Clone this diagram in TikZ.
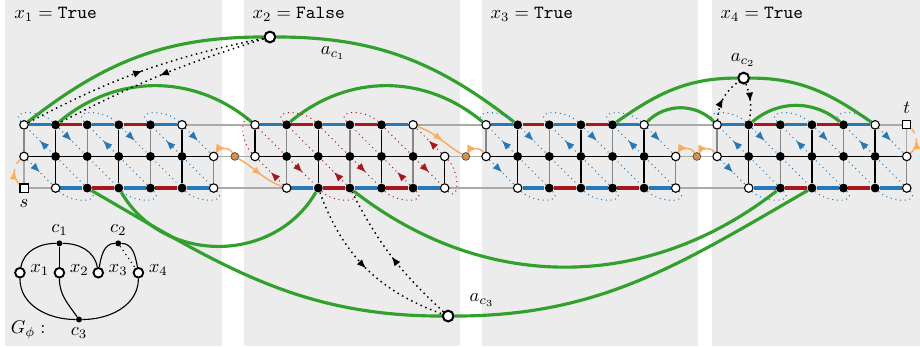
\documentclass[tikz,border=0pt]{standalone}
\usepackage{tikz}
\usetikzlibrary{arrows.meta}
\usetikzlibrary{decorations.markings}
\usetikzlibrary{positioning}
\usepackage{amsmath}

\definecolor{cblue}{RGB}{38,120,182}
\definecolor{cred}{RGB}{165,25,30}
\definecolor{cgreen}{RGB}{50,160,45}
\definecolor{corange}{RGB}{250,172,95}
\definecolor{panelgray}{RGB}{236,236,236}
\definecolor{lgray}{RGB}{170,170,170}
\definecolor{vgray}{RGB}{135,135,135}

\pgfdeclarelayer{panel}
\pgfdeclarelayer{edge}
\pgfsetlayers{panel,edge,main}

\tikzstyle{bnode}=[circle,fill=black,inner sep=0pt,minimum size=4.8pt]
\tikzstyle{wnode}=[circle,draw=black,fill=white,line width=0.6pt,inner sep=0pt,minimum size=4.6pt]
\tikzstyle{snode}=[rectangle,draw=black,fill=white,line width=0.6pt,inner sep=0pt,minimum size=4.4pt]
\tikzstyle{anode}=[circle,draw=black,fill=white,line width=1.1pt,inner sep=0pt,minimum size=5.8pt]
\tikzstyle{odot}=[circle,draw=black!70,fill=corange!85!black,line width=0.4pt,inner sep=0pt,minimum size=4.2pt]
\tikzstyle{xnode}=[circle,draw=black,fill=white,line width=1pt,inner sep=0pt,minimum size=5.2pt]
\tikzstyle{cnode}=[circle,fill=black,inner sep=0pt,minimum size=3.2pt]
\tikzstyle{vlabel}=[anchor=west,inner sep=0pt]
\tikzstyle{grid}=[line width=0.7pt]
\tikzstyle{link}=[lgray,line width=0.8pt]
\tikzstyle{tedge}=[cblue,line width=1.7pt]
\tikzstyle{fedge}=[cred,line width=1.7pt]
\tikzstyle{gedge}=[cgreen,line width=1.7pt]
\tikzstyle{phi}=[line width=0.6pt]
\tikzstyle{cyc}=[dotted,line width=0.55pt]
\tikzstyle{capb}=[out=-45,in=-45,looseness=1.35]
\tikzstyle{capt}=[out=135,in=135,looseness=1.35]
\tikzstyle{bmark}=[decoration={markings,mark=at position 0.5 with {\arrow{Latex[length=5pt,width=4pt,color=cblue]}}},decorate]
\tikzstyle{rmark}=[decoration={markings,mark=at position 0.5 with {\arrow{Latex[length=5pt,width=4pt,color=cred]}}},decorate]
\tikzstyle{detour}=[dotted,line width=0.8pt,decoration={markings,mark=at position 0.5 with {\arrow{Latex[length=5pt,width=4pt]}}},postaction={decorate}]
\tikzstyle{oarr}=[corange,line width=0.8pt,decoration={markings,mark=at position 0.55 with {\arrow{Latex[length=5pt,width=4pt]}}},postaction={decorate}]

\begin{document}
\begin{tikzpicture}[x=0.6cm,y=0.6cm]
  \useasboundingbox (-0.76,-5.0) rectangle (28.35,5.95);
  \begin{pgfonlayer}{panel}
    \fill[panelgray] (-0.60,-5.0) rectangle (6.27,5.95);
    \fill[panelgray] (6.96,-5.0) rectangle (13.80,5.95);
    \fill[panelgray] (14.49,-5.0) rectangle (21.33,5.95);
    \fill[panelgray] (21.77,-5.0) rectangle (28.35,5.95);
  \end{pgfonlayer}

  \node[vlabel] (v1) at (-0.32,5.5) {$x_1 = \texttt{True}$};
  \node[vlabel] (v2) at (7.22,5.5) {$x_2 = \texttt{False}$};
  \node[vlabel] (v3) at (14.75,5.5) {$x_3 = \texttt{True}$};
  \node[vlabel] (v4) at (22.03,5.5) {$x_4 = \texttt{True}$};

  % variable gadgets
  \foreach \g/\ox in {1/0,2/7.31,3/14.62,4/21.93} {
    \node[wnode] (g\g t0) at (\ox,2) {};
    \foreach \i in {1,...,4} \node[bnode] (g\g t\i) at (\ox+\i,2) {};
    \node[wnode] (g\g t5) at (\ox+5,2) {};
    \node[wnode] (g\g m0) at (\ox,1) {};
    \foreach \i in {1,...,5} \node[bnode] (g\g m\i) at (\ox+\i,1) {};
    \node[wnode] (g\g m6) at (\ox+6,1) {};
    \node[wnode] (g\g b1) at (\ox+1,0) {};
    \foreach \i in {2,...,5} \node[bnode] (g\g b\i) at (\ox+\i,0) {};
    \node[wnode] (g\g b6) at (\ox+6,0) {};
  }
  \node[snode] (s) at (0,0) {};
  \node[snode] (t) at (27.93,2) {};
  \node[below=0pt of s] (ls) {$s$};
  \node[above=0pt of t] (lt) {$t$};
  \node[odot] (o1) at (6.67,1) {};
  \node[odot] (o2) at (13.98,1) {};
  \node[odot] (o3) at (21.29,1) {};

  % clause vertices
  \node[anode] (ac1) at (7.78,4.78) {};
  \node[anode] (ac2) at (22.77,3.48) {};
  \node[anode] (ac3) at (13.42,-4.05) {};
  \node (lac1) at (9.78,4.27) {$a_{c_1}$};
  \node (lac2) at (22.75,4.05) {$a_{c_2}$};
  \node (lac3) at (14.49,-3.54) {$a_{c_3}$};

  % G_phi
  \node[xnode] (gx1) at (-0.13,-2.68) {};
  \node[xnode] (gx2) at (1.12,-2.68) {};
  \node[xnode] (gx3) at (2.35,-2.68) {};
  \node[xnode] (gx4) at (3.62,-2.68) {};
  \node[cnode] (gc1) at (1.12,-1.75) {};
  \node[cnode] (gc2) at (2.98,-1.75) {};
  \node[cnode] (gc3) at (1.74,-4.16) {};
  \foreach \i in {1,...,4} \node[right=-1pt of gx\i,yshift=1.5pt] (lx\i) {$x_\i$};
  \node[above=-1pt of gc1] (lc1) {$c_1$};
  \node[above=-1pt of gc2] (lc2) {$c_2$};
  \node[below=-1pt of gc3] (lc3) {$c_3$};
  \node (gphi) at (0.13,-4.49) {$G_\phi :$};

  \begin{pgfonlayer}{edge}
    % links between gadgets
    \draw[link] (g1b1) -- (s) -- (g1m0);
    \draw[link] (g4t5) -- (t) -- (g4m6);
    \foreach \g/\h in {1/2,2/3,3/4} {
      \draw[link] (g\g t5) -- (g\h t0);
      \draw[link] (g\g b6) -- (g\h b1);
      \draw[link] (g\g m6) -- (o\g) -- (g\h m0);
    }
    % grid and coloured edges
    \foreach \g/\ce/\co in {1/vgray/black,2/black/vgray,3/vgray/black,4/vgray/black} {
      \draw[grid] (g\g m0) \foreach \i in {1,...,6} {-- (g\g m\i)};
      \draw[grid,\ce] (g\g t0) -- (g\g m0);
      \draw[grid,\ce] (g\g m6) -- (g\g b6);
      \foreach \i in {2,4} \draw[grid,\ce] (g\g t\i) -- (g\g m\i) -- (g\g b\i);
      \foreach \i in {1,3,5} \draw[grid,\co] (g\g t\i) -- (g\g m\i) -- (g\g b\i);
      \draw[tedge] (g\g t0) -- (g\g t1) (g\g t2) -- (g\g t3) (g\g t4) -- (g\g t5);
      \draw[fedge] (g\g t1) -- (g\g t2) (g\g t3) -- (g\g t4);
      \draw[tedge] (g\g b1) -- (g\g b2) (g\g b3) -- (g\g b4) (g\g b5) -- (g\g b6);
      \draw[fedge] (g\g b2) -- (g\g b3) (g\g b4) -- (g\g b5);
    }
    % clause edges
    \draw[gedge] (g1t0) to[out=38,in=180] (ac1) to[out=0,in=142] (g3t1);
    \draw[gedge] (g1t1) to[bend left=40] (g2t0);
    \draw[gedge] (g2t1) to[bend left=40] (g3t0);
    \draw[gedge] (g3t4) to[out=35,in=180] (ac2) to[out=0,in=145] (g4t5);
    \draw[gedge] (g3t5) to[bend left=45] (g4t0);
    \draw[gedge] (g4t1) to[bend left=40] (g4t4);
    \draw[gedge] (g1b2) to[out=-30,in=180] (ac3) to[out=0,in=-150] (g4b3);
    \draw[gedge] (g1b3) to[out=-60,in=-120,looseness=1.1] (g2b2);
    \draw[gedge] (g2b3) to[bend right=38] (g4b2);
    % alternating cycles
    \foreach \g in {1,3,4} {
      \draw[cyc,cblue] (g\g m0) -- (g\g b1) to[capb] (g\g b2) -- (g\g t0)
        to[capt] (g\g t1) -- (g\g b3) to[capb] (g\g b4) -- (g\g t2)
        to[capt] (g\g t3) -- (g\g b5) to[capb] (g\g b6) -- (g\g t4)
        to[capt] (g\g t5) -- (g\g m6);
      \foreach \a/\b in {m0/b1,m1/t0,t1/m2,m3/t2,t3/m4,m5/t4,t5/m6} \path[bmark] (g\g\a) -- (g\g\b);
    }
    \draw[cyc,cred] (g2b1) -- (g2m0) to[capt] (g2t0) -- (g2b2)
      to[capb] (g2b3) -- (g2t1) to[capt] (g2t2) -- (g2b4)
      to[capb] (g2b5) -- (g2t3) to[capt] (g2t4) -- (g2b6)
      to[capb] (g2m6) -- (g2t5);
    \foreach \a/\b in {b1/m0,m1/b2,b3/m2,m3/b4,b5/m4,m5/b6,m6/t5} \path[rmark] (g2\a) -- (g2\b);
    % the path s -> t
    \draw[oarr,dashed] (s) to[bend left=50] (g1m0);
    \draw[oarr] (g1m6) to[bend left=60] (o1);
    \draw[oarr] (o1) to[out=-30,in=160] (g2b1);
    \draw[oarr] (g2t5) to[out=-20,in=150] (o2);
    \draw[oarr] (o2) to[bend left=60] (g3m0);
    \draw[oarr] (g3m6) to[bend left=60] (o3);
    \draw[oarr] (o3) to[bend left=60] (g4m0);
    \draw[oarr,dashed] (g4m6) to[bend right=50] (t);
    % detours through the clause vertices
    \draw[detour] (g1t0) to[bend left=8] (ac1);
    \draw[detour] (ac1) to[bend right=5] (g1t1);
    \draw[detour] (g4t0) to[bend left=25] (ac2);
    \draw[detour] (ac2) to[bend left=15] (g4t1);
    \draw[detour] (g2b2) to[bend right=25] (ac3);
    \draw[detour] (ac3) to[bend left=10] (g2b3);
    % G_phi edges
    \draw[phi] (gc1) to[out=180,in=80] (gx1);
    \draw[phi] (gc1) -- (gx2);
    \draw[phi] (gc1) to[out=0,in=100] (gx3);
    \draw[phi] (gc2) to[out=180,in=80] (gx3);
    \draw[phi] (gc2) to[out=0,in=100] (gx4);
    \draw[phi,dotted] (gc2) -- (gx4);
    \draw[phi] (gx1) to[out=-90,in=180] (gc3);
    \draw[phi] (gx2) to[out=-90,in=125] (gc3);
    \draw[phi] (gx4) to[out=-90,in=0] (gc3);
  \end{pgfonlayer}
\end{tikzpicture}
\end{document}
